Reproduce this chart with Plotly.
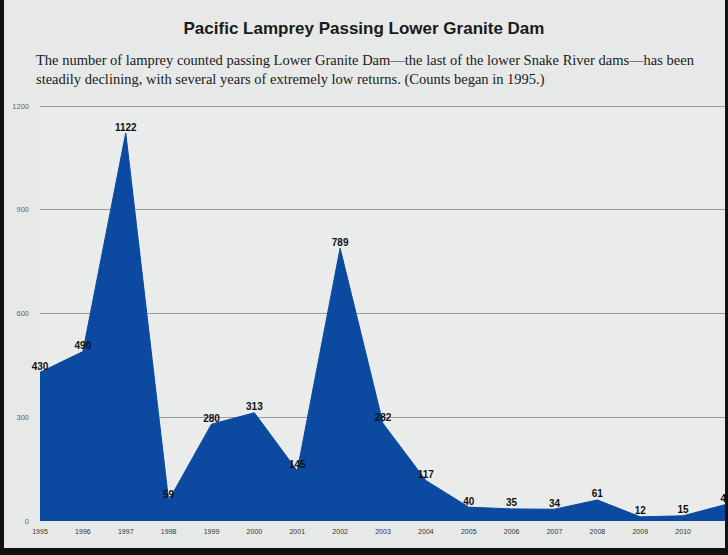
import plotly.graph_objects as go

years = list(range(1995, 2012))
counts = [430, 490, 1122, 59, 280, 313, 145, 789, 282, 117, 40, 35, 34, 61, 12, 15, 48]
labels = [str(c) for c in counts]
y_ticks = [0, 300, 600, 900, 1200]

fig = go.Figure()
fig.add_trace(go.Scatter(
    x=years, y=counts, mode="lines+text", fill="tozeroy",
    fillcolor="#0b4aa0", line=dict(color="#0b4aa0", width=1),
    text=labels, textposition="top center",
    textfont=dict(family="Liberation Sans", size=10, color="#111111", weight="bold"),
    cliponaxis=False, hoverinfo="x+y",
))

W_PLOT = 728 - 40 - 2
H_PLOT = 555 - 105 - 34

def px_x(p):
    return (p - 40) / W_PLOT

def px_y(p):
    return (555 - 34 - p) / H_PLOT

fig.update_layout(
    width=728, height=555,
    margin=dict(l=40, r=2, t=105, b=34),
    paper_bgcolor="#e6e9e8", plot_bgcolor="#e9ecea",
    showlegend=False,
    xaxis=dict(range=[1995, 2011], tickvals=years, ticktext=[str(y) for y in years],
               showgrid=False, zeroline=False, showline=False, automargin=False,
               ticklabelstandoff=5,
               tickfont=dict(family="Liberation Sans", size=7, color="#333333"),
               ticks="", fixedrange=True),
    yaxis=dict(range=[0, 1203], tickvals=y_ticks, ticktext=[str(v) for v in y_ticks],
               showgrid=True, gridcolor="#9a9a9a", gridwidth=1, zeroline=False,
               automargin=False, ticklabelstandoff=10,
               tickfont=dict(family="Liberation Sans", size=7.5, color="#666666"),
               ticks="", fixedrange=True),
    title=dict(text="<b>Pacific Lamprey Passing Lower Granite Dam</b>", x=0.5, xanchor="center",
               y=1 - 28 / 555, yanchor="middle",
               font=dict(family="Liberation Sans", size=17, color="#1a1a1a")),
    annotations=[dict(
        text=("The number of lamprey counted passing Lower Granite Dam\u2014the last of the lower Snake River dams\u2014has been<br>"
              "steadily declining, with several years of extremely low returns. (Counts began in 1995.)"),
        xref="paper", yref="paper", x=px_x(34), y=px_y(50), xanchor="left", yanchor="top",
        align="left", showarrow=False,
        font=dict(family="Liberation Serif", size=14.5, color="#1a1a1a"))],
    shapes=[
        dict(type="rect", xref="paper", yref="paper", x0=px_x(-2), x1=px_x(4), y0=px_y(560), y1=px_y(-5),
             fillcolor="#111111", line=dict(width=0), layer="above"),
        dict(type="rect", xref="paper", yref="paper", x0=px_x(725), x1=px_x(730), y0=px_y(560), y1=px_y(-5),
             fillcolor="#111111", line=dict(width=0), layer="above"),
        dict(type="rect", xref="paper", yref="paper", x0=px_x(-2), x1=px_x(730), y0=px_y(560), y1=px_y(548),
             fillcolor="#111111", line=dict(width=0), layer="above"),
    ],
)

fig.write_html("out.html", config={"displayModeBar": False},
               post_script="document.body.style.margin='0';document.body.style.overflow='hidden';")
